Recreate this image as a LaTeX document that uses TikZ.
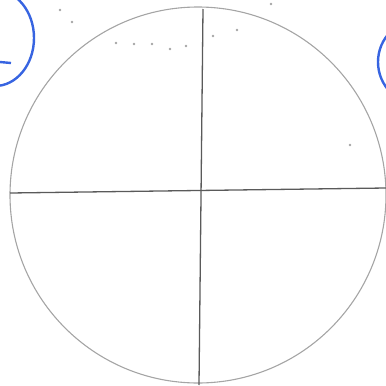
\documentclass[tikz,border=0pt]{standalone}
\usepackage{xcolor}
\usepackage{tikz}
\definecolor{skpencil}{RGB}{165,165,165}
\definecolor{skdark}{RGB}{90,90,90}
\definecolor{skblue}{RGB}{55,100,225}

\begin{document}
\begin{tikzpicture}[x=1pt,y=-1pt]
  \useasboundingbox (0,0) rectangle (386,386);
  \clip (0,0) rectangle (386,386);
  \draw[skpencil,line width=1.1pt] (198,195) circle[radius=188];
  \draw[skdark,line width=1.3pt] (10,193) -- (386,188);
  \draw[skdark,line width=1.3pt] (203,9) -- (199,385);
  \draw[skblue,line width=2.4pt] (-5,38) ellipse[x radius=39,y radius=48];
  \draw[skblue,line width=2.4pt] (0,62) -- (11,63);
  \draw[skblue,line width=2.4pt] (421,62) circle[radius=43];
  \foreach \p in {(60,10),(72,22),(116,43),(134,44),(152,44),(170,49),(186,46),
                  (213,36),(237,30),(271,4),(350,145)}
    \fill[skpencil] \p circle[radius=1.3];
\end{tikzpicture}
\end{document}
